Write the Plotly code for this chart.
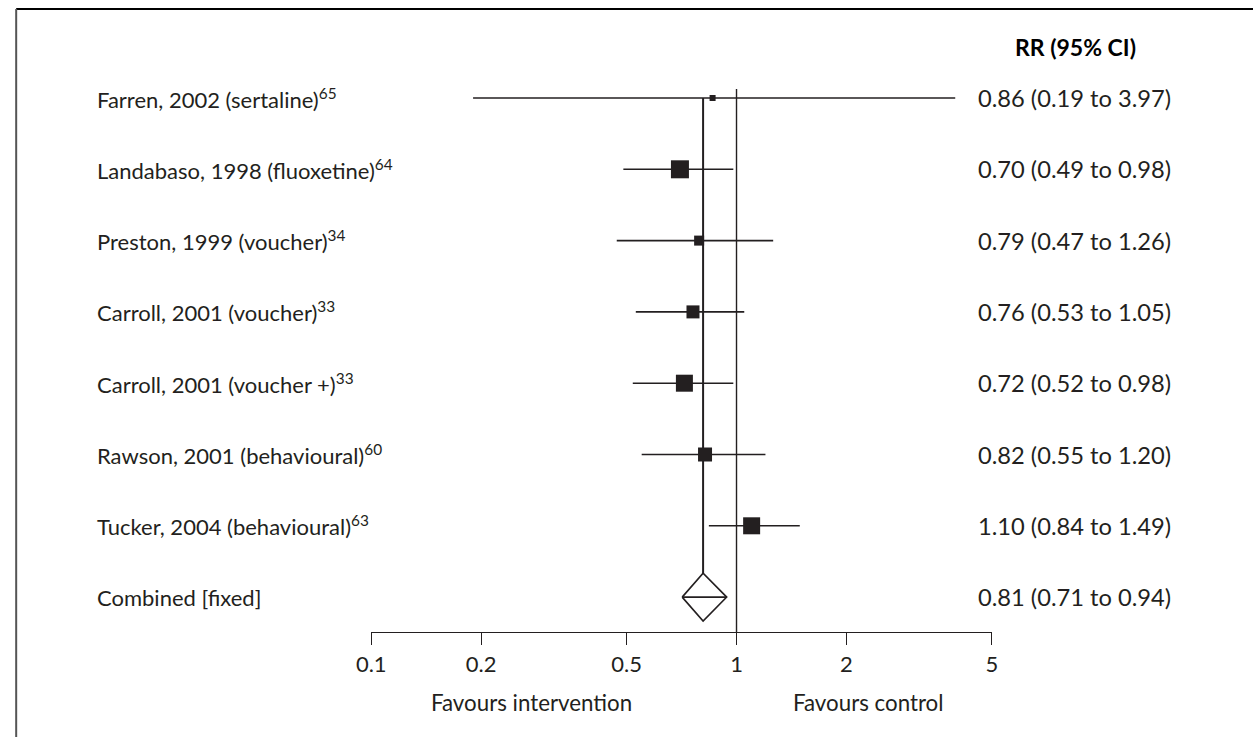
import plotly.graph_objects as go

# ---- data ----
studies = [
    "Farren, 2002 (sertaline)",
    "Landabaso, 1998 (fluoxetine)",
    "Preston, 1999 (voucher)",
    "Carroll, 2001 (voucher)",
    "Carroll, 2001 (voucher +)",
    "Rawson, 2001 (behavioural)",
    "Tucker, 2004 (behavioural)",
]
refs = ["65", "64", "34", "33", "33", "60", "63"]
rr = [0.86, 0.70, 0.79, 0.76, 0.72, 0.82, 1.10]
ci_low = [0.19, 0.49, 0.47, 0.53, 0.52, 0.55, 0.84]
ci_high = [3.97, 0.98, 1.26, 1.05, 0.98, 1.20, 1.49]
box_sizes = [6, 18, 10, 13, 17, 14, 17]

combined_label = "Combined [fixed]"
combined_rr = 0.81
combined_low = 0.71
combined_high = 0.94

tick_vals = [0.1, 0.2, 0.5, 1, 2, 5]
tick_text = ["0.1", "0.2", "0.5", "1", "2", "5"]

# ---- layout constants ----
W, H = 1259, 737
FONT = "Lato"
INK = "#231f20"
row0_px, row_step_px = 98, 71.3
axis_px = 632
x_left_px, x_right_px = 370, 991
# horizontal render calibration (observed offset / scale of the page)
X0, XS = 13.5, 0.984


def py_to_row(py):
    return (py - row0_px) / row_step_px


def paper_x(px):
    return (px - X0) / XS / W


n = len(studies)
rows = list(range(n))
comb_row = n

fig = go.Figure()

# CI lines
cx, cy = [], []
for i in rows:
    cx += [ci_low[i], ci_high[i], None]
    cy += [i, i, None]
fig.add_trace(go.Scatter(x=cx, y=cy, mode="lines",
                         line=dict(color=INK, width=1.6), hoverinfo="skip"))

# no-effect line
fig.add_trace(go.Scatter(x=[1, 1], y=[py_to_row(89), py_to_row(axis_px)], mode="lines",
                         line=dict(color=INK, width=1.4), hoverinfo="skip"))

# combined estimate line
dh = 24 / row_step_px
fig.add_trace(go.Scatter(x=[combined_rr, combined_rr], y=[0, comb_row - dh],
                         mode="lines", line=dict(color=INK, width=2), hoverinfo="skip"))

# boxes
fig.add_trace(go.Scatter(x=rr, y=rows, mode="markers",
                         marker=dict(symbol="square", size=box_sizes, color=INK,
                                     opacity=1, line=dict(width=0)),
                         hoverinfo="skip"))

# diamond
fig.add_trace(go.Scatter(
    x=[combined_low, combined_rr, combined_high, combined_rr, combined_low],
    y=[comb_row, comb_row - dh, comb_row, comb_row + dh, comb_row],
    mode="lines", fill="toself", fillcolor="white",
    line=dict(color=INK, width=1.6), hoverinfo="skip"))
fig.add_trace(go.Scatter(x=[combined_low, combined_high], y=[comb_row, comb_row],
                         mode="lines", line=dict(color=INK, width=1.6), hoverinfo="skip"))

LBL = 22
NUM = 23.7
TXT_PAD = 3
lx = paper_x(97 - TXT_PAD)
rx = paper_x(978 - TXT_PAD)
annotations = []
for i in rows:
    annotations.append(dict(
        x=lx, xref="paper", y=i, yref="y", xanchor="left", yanchor="middle",
        text=f"{studies[i]}<sup>{refs[i]}</sup>", showarrow=False,
        font=dict(family=FONT, size=LBL, color=INK)))
    annotations.append(dict(
        x=rx, xref="paper", y=i, yref="y", xanchor="left", yanchor="middle",
        text=f"{rr[i]:.2f} ({ci_low[i]:.2f} to {ci_high[i]:.2f})", showarrow=False,
        font=dict(family=FONT, size=NUM, color=INK)))
annotations.append(dict(
    x=lx, xref="paper", y=comb_row, yref="y", xanchor="left", yanchor="middle",
    text=combined_label, showarrow=False, font=dict(family=FONT, size=LBL, color=INK)))
annotations.append(dict(
    x=rx, xref="paper", y=comb_row, yref="y", xanchor="left", yanchor="middle",
    text=f"{combined_rr:.2f} ({combined_low:.2f} to {combined_high:.2f})", showarrow=False,
    font=dict(family=FONT, size=NUM, color=INK)))
annotations.append(dict(
    x=paper_x(1075), xref="paper", y=1 - 47 / H, yref="paper", xanchor="center", yanchor="middle",
    text="<b>RR (95% CI)</b>", showarrow=False, font=dict(family=FONT, size=23, color="black")))
annotations.append(dict(
    x=paper_x(530), xref="paper", y=1 - 702 / H, yref="paper", xanchor="center", yanchor="middle",
    text="Favours intervention", showarrow=False, font=dict(family=FONT, size=22.3, color=INK)))
annotations.append(dict(
    x=paper_x(867), xref="paper", y=1 - 702 / H, yref="paper", xanchor="center", yanchor="middle",
    text="Favours control", showarrow=False, font=dict(family=FONT, size=22.3, color=INK)))

frame_x = max(paper_x(9), 1.2 / W)
shapes = [
    dict(type="line", xref="paper", yref="paper", x0=frame_x, x1=1.0, y0=1 - 9 / H, y1=1 - 9 / H,
         line=dict(color="black", width=2)),
    dict(type="line", xref="paper", yref="paper", x0=frame_x, x1=frame_x, y0=1 - 9 / H, y1=0,
         line=dict(color="#555", width=2)),
]

fig.update_layout(
    width=W, height=H,
    margin=dict(l=0, r=0, t=0, b=0, pad=0),
    paper_bgcolor="white", plot_bgcolor="white",
    showlegend=False,
    annotations=annotations, shapes=shapes,
    xaxis=dict(type="log", range=[-1, 0.69897],
               domain=[paper_x(x_left_px), paper_x(x_right_px)],
               anchor="free", position=1 - axis_px / H,
               showgrid=False, zeroline=False, showline=True, linecolor=INK, linewidth=1.4,
               ticks="outside", ticklen=12, tickwidth=1.4, tickcolor=INK,
               tickvals=tick_vals, ticktext=tick_text,
               tickfont=dict(family=FONT, size=22, color=INK), fixedrange=True),
    yaxis=dict(range=[py_to_row(H), py_to_row(0)], domain=[0, 1], visible=False,
               showgrid=False, zeroline=False, fixedrange=True),
)

fig.write_html("out.html", config={"responsive": False})
